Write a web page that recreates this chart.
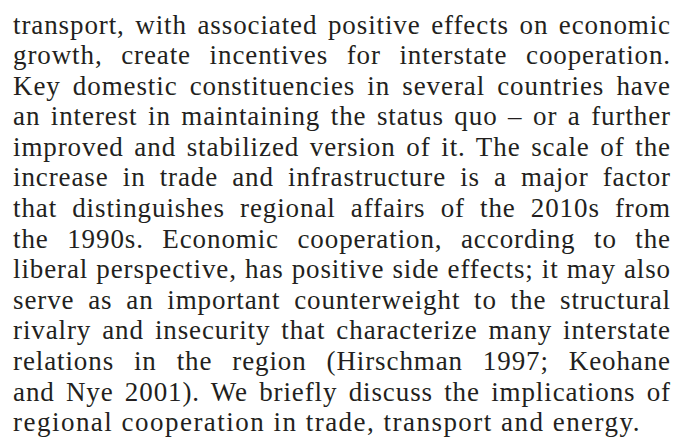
<!DOCTYPE html>
<html>
<head>
<meta charset="utf-8">
<script src="https://cdn.jsdelivr.net/npm/chart.js@4"></script>
<style>
  html, body {
    margin: 0;
    padding: 0;
    background: #ffffff;
  }
  #page {
    position: absolute;
    left: 13px;
    top: 9.5px;
    width: 658px;
    font-family: "Liberation Serif", serif;
    font-size: 27px;
    line-height: 30.6px;
    color: #231f20;
  }
  .line {
    display: block;
    text-align: justify;
    text-align-last: justify;
  }
  .line.last {
    text-align-last: left;
  }
</style>
</head>
<body>
<div id="page"></div>
<script>
// Paragraph text, one entry per printed line
const textLines = [
  "transport, with associated positive effects on economic",
  "growth, create incentives for interstate cooperation.",
  "Key domestic constituencies in several countries have",
  "an interest in maintaining the status quo \u2013 or a further",
  "improved and stabilized version of it. The scale of the",
  "increase in trade and infrastructure is a major factor",
  "that distinguishes regional affairs of the 2010s from",
  "the 1990s. Economic cooperation, according to the",
  "liberal perspective, has positive side effects; it may also",
  "serve as an important counterweight to the structural",
  "rivalry and insecurity that characterize many interstate",
  "relations in the region (Hirschman 1997; Keohane",
  "and Nye 2001). We briefly discuss the implications of",
  "regional cooperation in trade, transport and energy."
];

const FONT = '27px "Liberation Serif"';
const FULL_WIDTH = 658;
const LAST_WIDTH = 628;
const MAX_SPACING = 0.9;

document.addEventListener("DOMContentLoaded", () => {
  buildParagraph();
});

// Write each line as its own justified block, widened a little
// so the narrower font fills the line like the original
function buildParagraph() {
  const page = document.getElementById("page");
  const ctx = document.createElement("canvas").getContext("2d");
  ctx.font = FONT;

  textLines.forEach((text, i) => {
    const isLast = i === textLines.length - 1;
    const natural = ctx.measureText(text).width;
    const span = document.createElement("span");
    span.className = "line" + (isLast ? " last" : "");
    span.textContent = text;

    if (isLast) {
      span.style.letterSpacing = ((LAST_WIDTH - natural) / text.length).toFixed(2) + "px";
    } else {
      const room = (FULL_WIDTH - natural - 3) / text.length;
      span.style.letterSpacing = Math.min(MAX_SPACING, room).toFixed(2) + "px";
    }
    page.appendChild(span);
  });
}
</script>
</body>
</html>
